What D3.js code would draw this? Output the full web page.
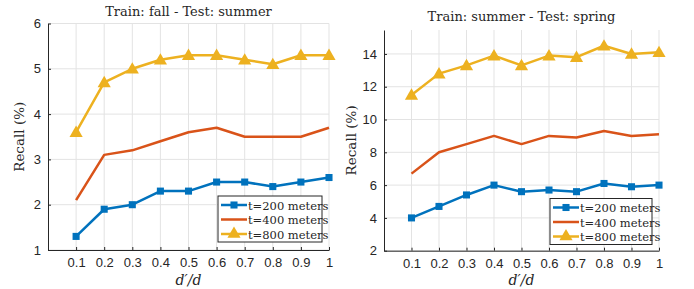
<!DOCTYPE html>
<html>
<head>
<meta charset="utf-8">
<script src="https://cdn.jsdelivr.net/npm/d3@7"></script>
<style>
  body { margin: 0; background: #fff; }
  .tick text { font-family: "Liberation Sans", Arial, sans-serif; font-size: 13px; fill: #262626; }
</style>
</head>
<body>
<svg id="chart" width="694" height="289"></svg>
<script>
const ratios = [0.1, 0.2, 0.3, 0.4, 0.5, 0.6, 0.7, 0.8, 0.9, 1];
const xTicks = [0.1, 0.2, 0.3, 0.4, 0.5, 0.6, 0.7, 0.8, 0.9, 1];
const seriesNames = ["t=200 meters", "t=400 meters", "t=800 meters"];
const seriesColors = ["#0072BD", "#D95319", "#EDB120"];
const seriesMarkers = ["square", "none", "triangle"];

// Train: fall - Test: summer
const fallSummer200 = [1.3, 1.9, 2.0, 2.3, 2.3, 2.5, 2.5, 2.4, 2.5, 2.6];
const fallSummer400 = [2.1, 3.1, 3.2, 3.4, 3.6, 3.7, 3.5, 3.5, 3.5, 3.7];
const fallSummer800 = [3.6, 4.7, 5.0, 5.2, 5.3, 5.3, 5.2, 5.1, 5.3, 5.3];
const leftYTicks = [1, 2, 3, 4, 5, 6];

// Train: summer - Test: spring
const summerSpring200 = [4.0, 4.7, 5.4, 6.0, 5.6, 5.7, 5.6, 6.1, 5.9, 6.0];
const summerSpring400 = [6.7, 8.0, 8.5, 9.0, 8.5, 9.0, 8.9, 9.3, 9.0, 9.1];
const summerSpring800 = [11.5, 12.8, 13.3, 13.9, 13.3, 13.9, 13.8, 14.5, 14.0, 14.1];
const rightYTicks = [2, 4, 6, 8, 10, 12, 14];

const serifFont = "DejaVu Serif";
const svg = d3.select("svg#chart");

function serifText(sel) {
  return sel.append("text").style("font-family", serifFont).attr("fill", "#262626");
}

function drawPanel(opts) {
  const x = d3.scaleLinear().domain([0, 1]).range([opts.left, opts.right]);
  const y = d3.scaleLinear().domain(opts.yDomain).range([opts.bottom, opts.top]);
  const g = svg.append("g");

  // grid
  g.append("g").selectAll("line").data(xTicks).join("line")
    .attr("x1", d => x(d)).attr("x2", d => x(d))
    .attr("y1", opts.top).attr("y2", opts.bottom)
    .attr("stroke", "#e3e3e3").attr("stroke-width", 1);
  g.append("g").selectAll("line").data(opts.yTicks).join("line")
    .attr("x1", opts.left).attr("x2", opts.right)
    .attr("y1", d => y(d)).attr("y2", d => y(d))
    .attr("stroke", "#e3e3e3").attr("stroke-width", 1);

  // axes
  const xAxis = d3.axisBottom(x).tickValues(xTicks).tickFormat(d3.format("~g")).tickSizeInner(-3).tickSizeOuter(0).tickPadding(8);
  const yAxis = d3.axisLeft(y).tickValues(opts.yTicks).tickFormat(d3.format("d")).tickSizeInner(-3).tickSizeOuter(0).tickPadding(7);
  const xg = g.append("g").attr("transform", `translate(0,${opts.bottom})`).call(xAxis);
  const yg = g.append("g").attr("transform", `translate(${opts.left},0)`).call(yAxis);
  [xg, yg].forEach(a => {
    a.select(".domain").attr("stroke", "#262626");
    a.selectAll(".tick line").attr("stroke", "#262626");
  });

  // lines
  opts.series.forEach((vals, i) => {
    const pts = vals.map((v, j) => [ratios[j], v]);
    g.append("path")
      .attr("d", d3.line().x(d => x(d[0])).y(d => y(d[1]))(pts))
      .attr("fill", "none").attr("stroke", seriesColors[i]).attr("stroke-width", 2.5)
      .attr("stroke-linejoin", "round");
    if (seriesMarkers[i] !== "none") {
      const sym = seriesMarkers[i] === "square" ? d3.symbolSquare : d3.symbolTriangle;
      const size = seriesMarkers[i] === "square" ? 50 : 75;
      g.append("g").selectAll("path").data(pts).join("path")
        .attr("transform", d => `translate(${x(d[0])},${y(d[1]) + (sym === d3.symbolTriangle ? 1 : 0)})`)
        .attr("d", d3.symbol().type(sym).size(size))
        .attr("fill", seriesColors[i]);
    }
  });

  // title and labels
  serifText(g)
    .attr("x", (opts.left + opts.right) / 2).attr("y", opts.titleY)
    .attr("text-anchor", "middle").attr("font-size", 13)
    .text(opts.title);
  serifText(g)
    .attr("transform", `translate(${opts.ylabelX},${(opts.top + opts.bottom) / 2}) rotate(-90)`)
    .attr("text-anchor", "middle").attr("font-size", 13.5)
    .text("Recall (%)");
  serifText(g)
    .attr("x", (opts.left + opts.right) / 2).attr("y", 285)
    .attr("text-anchor", "middle").attr("font-size", 14).attr("font-style", "italic")
    .text("d\u2032/d");

  // legend
  const lg = g.append("g").attr("transform", `translate(${opts.legend[0]},${opts.legend[1]})`);
  lg.append("rect").attr("width", opts.legend[2]).attr("height", 46)
    .attr("fill", "#fff").attr("stroke", "#262626").attr("stroke-width", 1);
  seriesNames.forEach((name, i) => {
    const yy = 9 + i * 14.5;
    lg.append("line").attr("x1", 3).attr("x2", 29).attr("y1", yy).attr("y2", yy)
      .attr("stroke", seriesColors[i]).attr("stroke-width", 2.5);
    if (seriesMarkers[i] !== "none") {
      const sym = seriesMarkers[i] === "square" ? d3.symbolSquare : d3.symbolTriangle;
      lg.append("path").attr("transform", `translate(16,${yy})`)
        .attr("d", d3.symbol().type(sym).size(sym === d3.symbolSquare ? 50 : 75))
        .attr("fill", seriesColors[i]);
    }
    serifText(lg).attr("x", 30).attr("y", yy + 4.5)
      .attr("font-size", 11.5).text(name);
  });
}

drawPanel({
  left: 48, right: 329, top: 23.5, bottom: 250,
  yDomain: [1, 6], yTicks: leftYTicks,
  series: [fallSummer200, fallSummer400, fallSummer800],
  title: "Train: fall - Test: summer", titleY: 16, ylabelX: 24,
  legend: [218, 196, 104]
});

drawPanel({
  left: 384, right: 659, top: 30, bottom: 250.7,
  yDomain: [2, 15.46], yTicks: rightYTicks,
  series: [summerSpring200, summerSpring400, summerSpring800],
  title: "Train: summer - Test: spring", titleY: 21, ylabelX: 356,
  legend: [550, 198.5, 102]
});
</script>
</body>
</html>
